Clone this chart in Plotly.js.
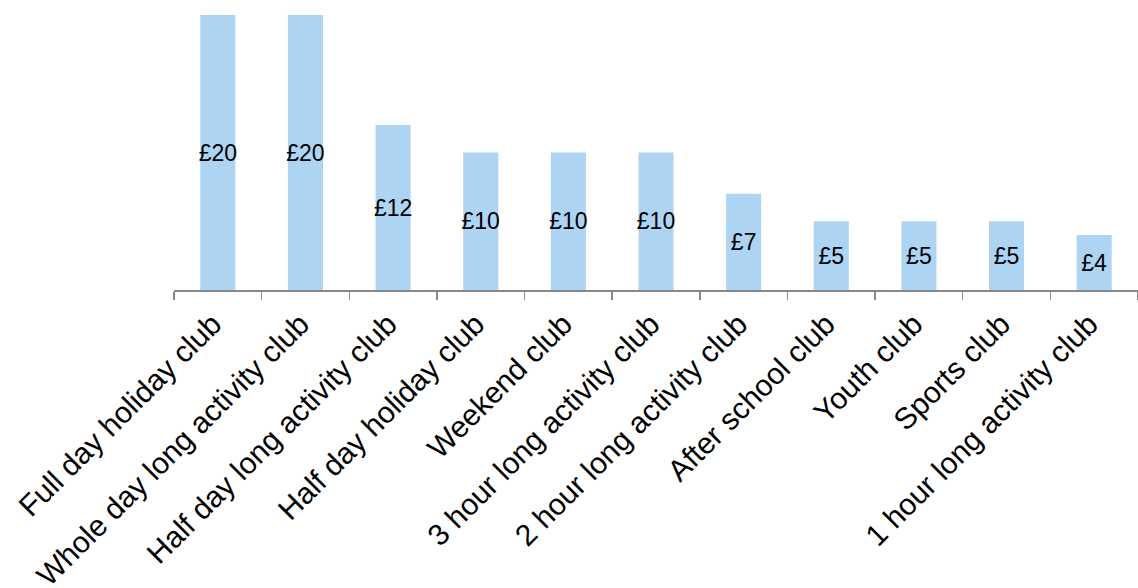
<!DOCTYPE html>
<html><head><meta charset="utf-8">
<script src="https://cdn.plot.ly/plotly-3.0.1.min.js"></script>
<style>html,body{margin:0;padding:0;background:#fff}</style>
</head><body>
<div id="chart" style="width:1138px;height:588px"></div>
<script>
const categories = ["Full day holiday club","Whole day long activity club","Half day long activity club","Half day holiday club","Weekend club","3 hour long activity club","2 hour long activity club","After school club","Youth club","Sports club","1 hour long activity club"];
const values = [20,20,12,10,10,10,7,5,5,5,4];
const labels = values.map(v => "£" + v);

Plotly.newPlot("chart", [{
  type: "bar",
  x: categories,
  y: values,
  text: labels,
  textposition: "inside",
  insidetextanchor: "middle",
  textangle: 0,
  cliponaxis: false,
  textfont: {family: "Liberation Sans, Arial, sans-serif", size: 23, color: "#000"},
  marker: {color: "#AED4F3"},
  hoverinfo: "none"
}], {
  width: 1138, height: 588,
  margin: {l: 174, r: 0, t: 15, b: 298},
  paper_bgcolor: "#fff", plot_bgcolor: "#fff",
  bargap: 0.6,
  uniformtext: {mode: "show", minsize: 23},
  showlegend: false,
  xaxis: {
    type: "category",
    tickson: "boundaries",
    ticks: "outside", ticklen: 8, tickcolor: "#888", tickwidth: 1.5,
    showline: true, linecolor: "#888", linewidth: 1.5,
    tickangle: -45,
    ticklabelshift: -5,
    ticklabelstandoff: 3,
    tickfont: {family: "Liberation Sans, Arial, sans-serif", size: 30, color: "#000"},
    automargin: false,
    showgrid: false
  },
  yaxis: {range: [0, 20], visible: false, showgrid: false, zeroline: false, fixedrange: true}
}, {staticPlot: true});
</script>
</body></html>
